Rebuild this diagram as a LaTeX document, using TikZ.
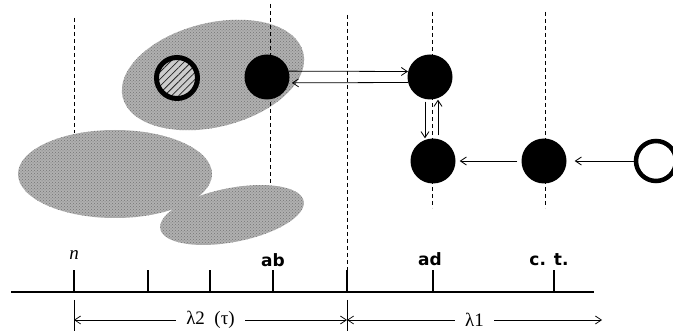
\documentclass[tikz,border=0pt]{standalone}
\usepackage{fontspec}
\setmainfont{Liberation Serif}
\setsansfont{DejaVu Sans}
\usepackage{tikz}
\usetikzlibrary{arrows.meta,patterns,patterns.meta}

\begin{document}
\begin{tikzpicture}[x=1pt, y=-1pt, every node/.style={inner sep=0pt},
  blob/.style={preaction={fill=gray!62}, pattern=crosshatch dots, pattern color=black!55},
  dot/.style={circle, fill=black, minimum size=45pt},
  ring/.style={circle, draw=black, line width=4.5pt, minimum size=40pt},
  guide/.style={dash pattern=on 4pt off 3pt, line width=0.7pt},
  arr/.style={-{Straight Barb[length=6pt,width=8pt]}, line width=0.8pt},
  dim/.style={{Straight Barb[length=6pt,width=8pt]}-{Straight Barb[length=6pt,width=8pt]}, line width=0.7pt},
  tick/.style={line width=2pt},
  lbl/.style={font=\sffamily\bfseries\fontsize{17}{19}\selectfont, anchor=base}]
\useasboundingbox (0,0) rectangle (673,331);
% gray clusters
\fill[blob] (115,174) ellipse (97 and 44);
\fill[blob, rotate around={11:(232,215)}] (232,215) ellipse (73 and 27);
\fill[blob, rotate around={14:(213,75)}] (213,75) ellipse (93 and 52);
% guides
\draw[guide] (74,18) -- (74,133);
\draw[guide] (270,4) -- (270,185);
\draw[guide] (347,15) -- (347,292);
\draw[guide] (432,12) -- (432,208);
\draw[guide] (545,12) -- (545,208);
% axis
\draw[line width=1.6pt] (11,292) -- (594,292);
\foreach \x in {74,148,210,273,347,433,554}
  \draw[tick] (\x,292) -- (\x,270);
\node[font=\itshape\fontsize{19}{21}\selectfont, anchor=base] (tn) at (74,260) {n};
\node[lbl] (tab) at (273,267) {ab};
\node[lbl] (tad) at (430,266) {ad};
\node[lbl] (tct) at (549,266) {c. t.};
% particles
\node[ring, preaction={fill=gray!40}, pattern={Lines[angle=45,distance=5pt,line width=0.8pt]},
  pattern color=gray!30!black, line width=5pt, minimum size=41pt] (hat) at (177,78) {};
\node[dot] (ab) at (267,77) {};
\node[dot] (ad) at (430,77) {};
\node[dot] (cc) at (433,161) {};
\node[dot] (ct) at (544,161) {};
\node[ring, fill=white] (free) at (656,161) {};
\draw[arr] (ab.15) -- (ad.166);
\draw[arr, shorten >=3pt] (ad.194) -- (ab.-15);
\draw[arr, shorten <=2pt] ([xshift=-5pt]ad.south) -- ([xshift=-5pt]ad.south |- cc.north);
\draw[arr, shorten <=3pt] ([xshift=5pt]cc.north) -- ([xshift=5pt]cc.north |- ad.south);
\draw[arr, shorten <=4pt, shorten >=4pt] (ct) -- (cc);
\draw[arr, shorten >=8pt] (free) -- (ct);
% spans
\coordinate (d0) at (74,320);
\coordinate (d1) at (347,320);
\coordinate (d2) at (602,320);
\draw[line width=0.7pt] (74,300) -- (74,331) (347,300) -- (347,331);
\draw[dim] (d0) -- node[fill=white, inner xsep=10pt, inner ysep=3pt, font=\fontsize{19}{21}\selectfont] (l2) {λ2\ \ (τ)} (d1);
\draw[dim] (d1) -- node[fill=white, inner xsep=10pt, inner ysep=3pt, font=\fontsize{19}{21}\selectfont] (l1) {λ1} (d2);
\end{tikzpicture}
\end{document}
